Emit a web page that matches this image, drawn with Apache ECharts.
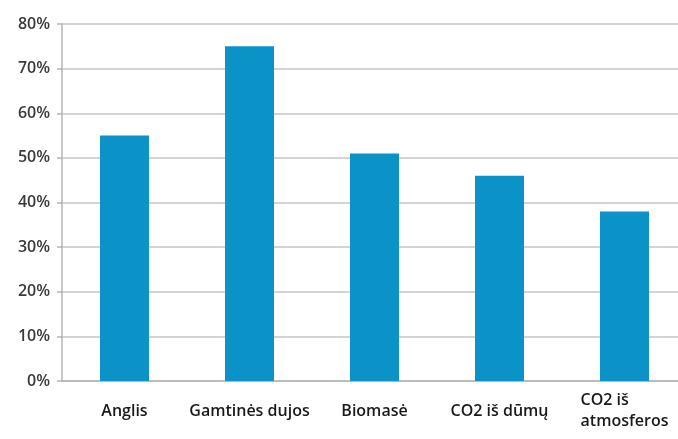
<!DOCTYPE html>
<html>
<head>
<meta charset="utf-8">
<script src="https://cdn.jsdelivr.net/npm/echarts@6/dist/echarts.min.js"></script>
<style>
	html, body { margin: 0; padding: 0; background: #fff; }
	#chart { width: 678px; height: 439px; }
</style>
</head>
<body>
<div id="chart"></div>
<script>
	// == kategorijos ==
	const categories = ['Anglis', 'Gamtinės dujos', 'Biomasė', 'CO2 iš dūmų', 'CO2 iš\natmosferos'];
	// == reikšmės (%) ==
	const values = [55, 75, 51, 46, 38];
	// == ašies žymės ==
	const yMin = 0;
	const yMax = 80;
	const yStep = 10;

	var myChart = echarts.init(document.getElementById('chart'));
	var option = {
		animation: false,
		grid: {
			left: 62,
			top: 24,
			bottom: 58,
			width: 625,
			outerBoundsMode: 'none',
		},
		xAxis: {
			type: 'category',
			data: categories,
			axisLine: { lineStyle: { color: '#b4b4b4', width: 1.5 } },
			axisTick: { show: false },
			axisLabel: {
				interval: 0,
				margin: 30,
				verticalAlign: 'middle',
				color: '#1a1a1a',
				fontFamily: 'Open Sans',
				fontWeight: 600,
				fontSize: 16,
				lineHeight: 21,
				formatter: function (v) {
					return v.split('\n').map(function (s) { return '{l|' + s + '}'; }).join('\n');
				},
				rich: {
					l: { align: 'left', fontFamily: 'Open Sans', fontWeight: 600, fontSize: 16, color: '#1a1a1a', lineHeight: 21 },
				},
			},
		},
		yAxis: {
			type: 'value',
			min: yMin,
			max: yMax,
			interval: yStep,
			axisLine: { show: true, lineStyle: { color: '#b4b4b4', width: 1.5 } },
			axisTick: { show: true, length: 5, lineStyle: { color: '#b4b4b4', width: 1.5 } },
			splitLine: { lineStyle: { color: '#c4c4c4', width: 1.5 } },
			axisLabel: {
				margin: 12,
				color: '#3a3a3a',
				fontFamily: 'Open Sans',
				fontWeight: 600,
				fontSize: 16,
				formatter: '{value}%',
			},
		},
		series: [
			{
				type: 'bar',
				data: values,
				barWidth: 49,
				itemStyle: { color: '#0b93c7' },
			},
		],
	};
	myChart.setOption(option);
</script>
</body>
</html>
